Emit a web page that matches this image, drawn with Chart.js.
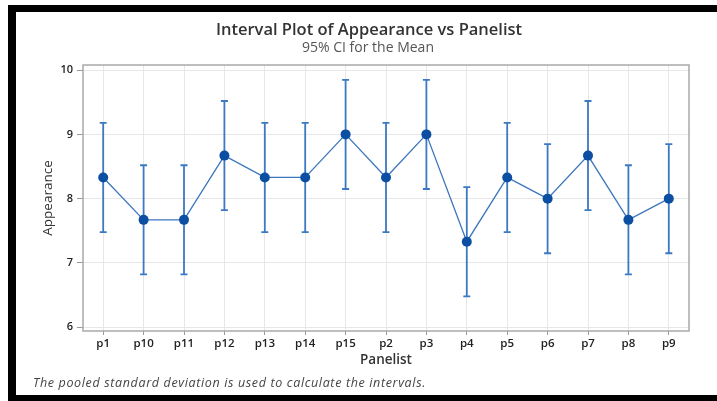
<!DOCTYPE html>
<html>
<head>
<meta charset="utf-8">
<script src="https://cdn.jsdelivr.net/npm/chart.js@4.4.1/dist/chart.umd.min.js"></script>
<style>
  html, body { margin: 0; padding: 0; background: #ffffff; }
  #wrap { position: relative; width: 717px; height: 401px; }
  canvas { display: block; }
</style>
</head>
<body>
<div id="wrap"><canvas id="c" width="717" height="401"></canvas></div>
<script>
// Panelists and their mean Appearance scores with 95% confidence limits
const categories = ['p1', 'p10', 'p11', 'p12', 'p13', 'p14', 'p15', 'p2', 'p3', 'p4', 'p5', 'p6', 'p7', 'p8', 'p9'];
const means   = [8.33, 7.67, 7.67, 8.67, 8.33, 8.33, 9.00, 8.33, 9.00, 7.33, 8.33, 8.00, 8.67, 7.67, 8.00];
const ciLower = [7.48, 6.82, 6.82, 7.82, 7.48, 7.48, 8.15, 7.48, 8.15, 6.48, 7.48, 7.15, 7.82, 6.82, 7.15];
const ciUpper = [9.18, 8.52, 8.52, 9.52, 9.18, 9.18, 9.85, 9.18, 9.85, 8.18, 9.18, 8.85, 9.52, 8.52, 8.85];
const yTicks  = [6, 7, 8, 9, 10];

const titleText = 'Interval Plot of Appearance vs Panelist';
const subtitleText = '95% CI for the Mean';
const footnoteText = 'The pooled standard deviation is used to calculate the intervals.';

Chart.defaults.font.family = '"Open Sans", "Noto Sans", sans-serif';

// White page with the dark frame strips
const framePlugin = {
  id: 'frame',
  beforeDraw(chart) {
    const ctx = chart.ctx;
    ctx.save();
    ctx.fillStyle = '#ffffff';
    ctx.fillRect(0, 0, chart.width, chart.height);
    ctx.fillStyle = '#000000';
    ctx.fillRect(8, 5, chart.width - 8, 7);     // top strip
    ctx.fillRect(8, 5, 8, 390);                 // left strip
    ctx.fillRect(8, 395, chart.width - 8, 6);   // bottom strip
    ctx.restore();
  }
};

// Draw text with extra tracking so it spans the given width
function fillTracked(ctx, text, x, y, width) {
  ctx.letterSpacing = '0px';
  const w = ctx.measureText(text).width;
  const extra = Math.max(0, (width - w) / Math.max(1, text.length - 1));
  ctx.letterSpacing = extra.toFixed(2) + 'px';
  ctx.fillText(text, x, y);
  ctx.letterSpacing = '0px';
}

// Box around the plot area plus the confidence-interval whiskers
const intervalPlugin = {
  id: 'intervals',
  beforeDatasetsDraw(chart) {
    const ctx = chart.ctx;
    const a = chart.chartArea;
    const xs = chart.scales.x, ys = chart.scales.y;
    ctx.save();
    ctx.strokeStyle = '#a9a9a9';
    ctx.lineWidth = 1.5;
    ctx.strokeRect(a.left, a.top, a.right - a.left, a.bottom - a.top);

    ctx.strokeStyle = '#3d79c2';
    ctx.lineWidth = 1.8;
    const cap = 3.5;
    categories.forEach((c, i) => {
      const x = xs.getPixelForValue(i);
      const yl = ys.getPixelForValue(ciLower[i]);
      const yu = ys.getPixelForValue(ciUpper[i]);
      ctx.beginPath();
      ctx.moveTo(x, yu); ctx.lineTo(x, yl);
      ctx.moveTo(x - cap, yu); ctx.lineTo(x + cap, yu);
      ctx.moveTo(x - cap, yl); ctx.lineTo(x + cap, yl);
      ctx.stroke();
    });
    ctx.restore();
  },
  afterDraw(chart) {
    const ctx = chart.ctx;
    ctx.save();
    ctx.textAlign = 'center';
    ctx.textBaseline = 'middle';
    ctx.fillStyle = '#333333';
    ctx.font = '600 16.5px "Open Sans", sans-serif';
    ctx.fillText(titleText, 369, 30.5);
    ctx.fillStyle = '#555555';
    ctx.font = '14px "Open Sans", sans-serif';
    ctx.fillText(subtitleText, 368, 48);
    ctx.textAlign = 'left';
    ctx.fillStyle = '#444444';
    ctx.font = 'italic 12.5px "Open Sans", sans-serif';
    fillTracked(ctx, footnoteText, 33, 383, 392);
    ctx.restore();
  }
};

new Chart(document.getElementById('c'), {
  type: 'line',
  data: {
    labels: categories,
    datasets: [{
      data: means,
      borderColor: '#3b76bd',
      borderWidth: 1.3,
      pointRadius: 5,
      pointHoverRadius: 5,
      pointBackgroundColor: '#0b4ea2',
      pointBorderColor: '#0b4ea2',
      pointBorderWidth: 0,
      tension: 0,
      fill: false
    }]
  },
  options: {
    responsive: false,
    devicePixelRatio: 1,
    animation: false,
    events: [],
    layout: { padding: { left: 36, right: 28, top: 65, bottom: 30 } },
    plugins: { legend: { display: false }, tooltip: { enabled: false } },
    scales: {
      x: {
        type: 'category',
        offset: true,
        afterFit(scale) { scale.height = 40; },
        grid: { color: '#e7e7e7', lineWidth: 1, offset: false, tickLength: 4, tickColor: '#999999', drawTicks: true },
        border: { display: false },
        ticks: { color: '#222222', font: { size: 11.5, weight: '600' }, padding: 2, maxRotation: 0, autoSkip: false },
        title: { display: true, text: 'Panelist', color: '#333333', font: { size: 13.5, weight: '600' }, padding: { top: 0, bottom: 3 } }
      },
      y: {
        type: 'linear',
        min: 5.94,
        max: 10.08,
        afterFit(scale) { scale.width = 47; },
        afterBuildTicks(scale) { scale.ticks = yTicks.map(v => ({ value: v })); },
        grid: { color: '#e7e7e7', lineWidth: 1, tickLength: 6, tickColor: '#999999', drawTicks: true },
        border: { display: false },
        ticks: { color: '#222222', font: { size: 11, weight: '600' }, padding: 4 },
        title: { display: true, text: 'Appearance', color: '#333333', font: { size: 13.5, weight: '400' }, padding: { top: 4, bottom: 0 } }
      }
    }
  },
  plugins: [framePlugin, intervalPlugin]
});
</script>
</body>
</html>
